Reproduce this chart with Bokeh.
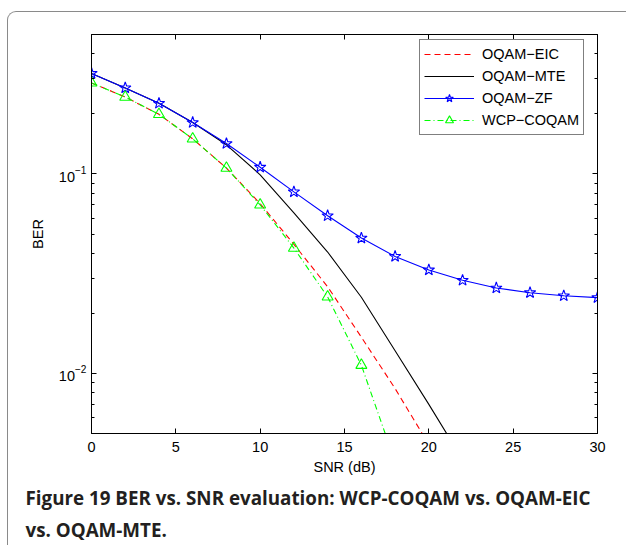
from bokeh.plotting import figure
from bokeh.models import (Range1d, LogAxis, LinearAxis, FixedTicker, Legend, LegendItem,
                          Title, CustomJSTickFormatter, InlineStyleSheet)
from bokeh.embed import file_html
from bokeh.resources import INLINE

# ---- data ----
snr_zf = [0, 2, 4, 6, 8, 10, 12, 14, 16, 18, 20, 22, 24, 26, 28, 30]
ber_zf = [0.319, 0.270, 0.226, 0.181, 0.142, 0.108, 0.0813, 0.0617, 0.0477,
          0.0386, 0.0330, 0.0293, 0.0268, 0.0254, 0.0245, 0.0240]

snr_mte = [0, 2, 4, 6, 8, 10, 12, 14, 16, 18, 20, 22]
ber_mte = [0.319, 0.270, 0.226, 0.181, 0.140, 0.099, 0.0638, 0.0406, 0.0241,
           0.0130, 0.0070, 0.0037]

snr_eic = [0, 2, 4, 6, 8, 10, 12, 14, 16, 18, 20]
ber_eic = [0.286, 0.243, 0.199, 0.150, 0.107, 0.071, 0.0444, 0.0272, 0.0152,
           0.0084, 0.0044]

snr_wcp = [0, 2, 4, 6, 8, 10, 12, 14, 16, 18]
ber_wcp = [0.286, 0.243, 0.199, 0.150, 0.107, 0.070, 0.0425, 0.0242, 0.0110, 0.0036]

series_labels = ["OQAM\u2212EIC", "OQAM\u2212MTE", "OQAM\u2212ZF", "WCP\u2212COQAM"]

x_ticks = [0, 5, 10, 15, 20, 25, 30]
y_ticks = [0.01, 0.1]
y_minor = [0.006, 0.007, 0.008, 0.009, 0.02, 0.03, 0.04, 0.05, 0.06, 0.07,
           0.08, 0.09, 0.2, 0.3, 0.4]

x_label = "SNR (dB)"
y_label = "BER"
caption1 = "Figure 19 BER vs. SNR evaluation: WCP-COQAM vs. OQAM-EIC"
caption2 = "vs. OQAM-MTE."

FONT = "Liberation Sans"
FS = "14.5px"

p = figure(width=626, height=545, y_axis_type="log",
           x_range=Range1d(0, 30), y_range=Range1d(0.005, 0.5),
           output_backend="svg", toolbar_location=None,
           min_border_left=91, min_border_right=29, min_border_top=34,
           min_border_bottom=112)
p.grid.visible = False
p.outline_line_color = "black"
p.outline_line_width = 1
p.background_fill_color = "white"
p.border_fill_color = "white"

r_eic = p.line(snr_eic, ber_eic, line_color="#ff0000", line_width=1.1, line_dash="6 4")
r_mte = p.line(snr_mte, ber_mte, line_color="#000000", line_width=1.1)
r_zf = p.line(snr_zf, ber_zf, line_color="#0000ff", line_width=1.1)
r_zf_m = p.scatter(snr_zf, ber_zf, marker="star", size=12, line_color="#0000ff",
                   fill_color=None, line_width=1.1)
r_wcp = p.line(snr_wcp, ber_wcp, line_color="#00ff00", line_width=1.1, line_dash="6 3 1 3")
r_wcp_m = p.scatter(snr_wcp, ber_wcp, marker="triangle", size=11, line_color="#00ff00",
                    fill_color=None, line_width=1.1)

def style_axis(ax, labels=True):
    ax.axis_line_color = "black"
    ax.axis_line_width = 1
    ax.major_tick_line_color = "black"
    ax.minor_tick_line_color = "black"
    ax.major_tick_in = 5
    ax.major_tick_out = 0
    ax.minor_tick_in = 3
    ax.minor_tick_out = 0
    ax.major_label_text_font = FONT
    ax.major_label_text_font_size = FS
    ax.major_label_text_color = "black"
    ax.axis_label_text_font = FONT
    ax.axis_label_text_font_size = FS
    ax.axis_label_text_font_style = "normal"
    ax.axis_label_text_color = "black"
    if not labels:
        ax.formatter = CustomJSTickFormatter(code="return ''")

xa = p.xaxis[0]
xa.ticker = FixedTicker(ticks=x_ticks)
xa.axis_label = x_label
xa.major_label_standoff = 8
xa.axis_label_standoff = 4
style_axis(xa)

ya = p.yaxis[0]
ya.ticker = FixedTicker(ticks=y_ticks, minor_ticks=y_minor)
ya.axis_label = y_label
ya.major_label_standoff = 5
ya.axis_label_standoff = 10
style_axis(ya)

top_ax = LinearAxis(ticker=FixedTicker(ticks=x_ticks))
style_axis(top_ax, labels=False)
p.add_layout(top_ax, "above")

right_ax = LogAxis(ticker=FixedTicker(ticks=y_ticks, minor_ticks=y_minor))
style_axis(right_ax, labels=False)
p.add_layout(right_ax, "right")

legend = Legend(items=[
    LegendItem(label=series_labels[0], renderers=[r_eic]),
    LegendItem(label=series_labels[1], renderers=[r_mte]),
    LegendItem(label=series_labels[2], renderers=[r_zf, r_zf_m]),
    LegendItem(label=series_labels[3], renderers=[r_wcp, r_wcp_m]),
], location=(328, 298))
legend.margin = 0
legend.padding = 4
legend.spacing = 2
legend.glyph_width = 50
legend.glyph_height = 20
legend.label_height = 20
legend.label_standoff = 8
legend.label_text_font = FONT
legend.label_text_font_size = FS
legend.label_text_color = "black"
legend.border_line_color = "black"
legend.border_line_width = 1
legend.background_fill_color = "white"
legend.background_fill_alpha = 1
p.add_layout(legend)

for txt, so in [(caption1, 11), (caption2, -3)]:
    p.add_layout(Title(text=txt, align="left", offset=-66, standoff=so,
                       text_font="Open Sans", text_font_style="bold",
                       text_font_size="18.8px", text_color="#231f20"), "below")

# thin grey page frame (top + left edges with a rounded corner)
p.stylesheets = [InlineStyleSheet(css="""
:host::after {
  content: "";
  position: absolute;
  left: 7px; top: 11px;
  width: 619px; height: 534px;
  box-sizing: border-box;
  border-left: 1.5px solid #8a8a8a;
  border-top: 1.5px solid #8a8a8a;
  border-top-left-radius: 9px;
  pointer-events: none;
}
""")]

open("out.html", "w").write(file_html(p, INLINE))
